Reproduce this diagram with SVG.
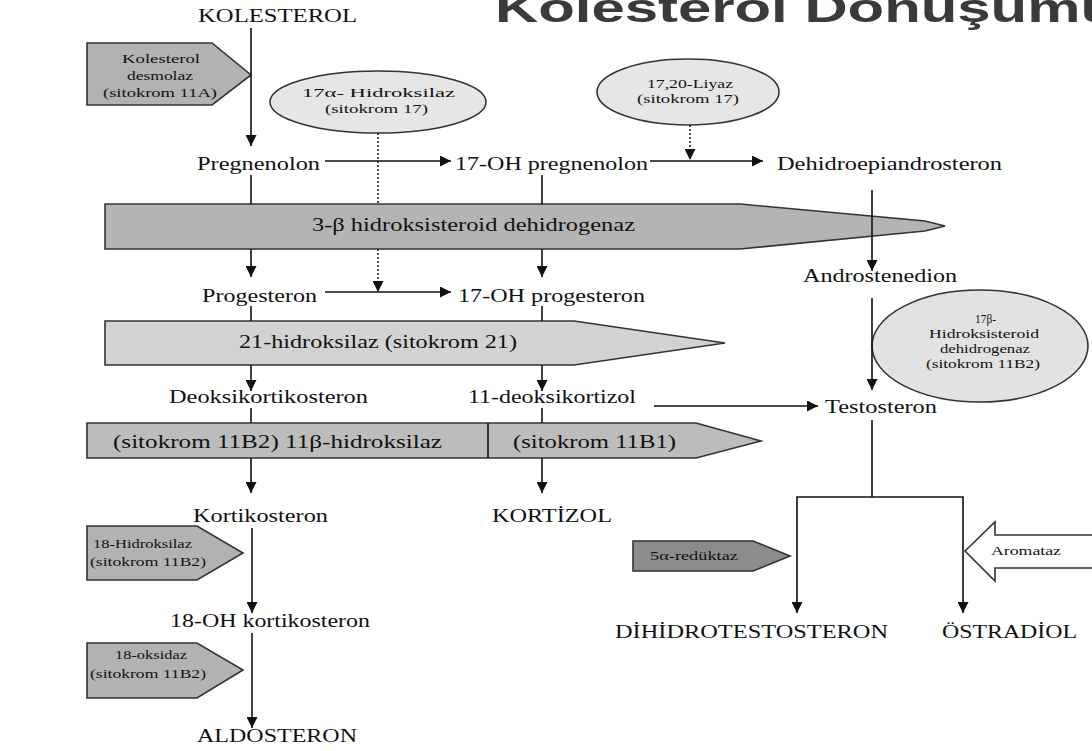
<svg xmlns="http://www.w3.org/2000/svg" width="1092" height="751" viewBox="0 0 1092 751">
<style>
.t{font-family:"Liberation Serif","Times New Roman",serif;font-size:19px;fill:#111}
.s{font-family:"Liberation Serif","Times New Roman",serif;font-size:11.5px;fill:#111}
.title{font-family:"Liberation Sans",Arial,sans-serif;font-weight:bold;font-size:40px;fill:#3a3a3a}
.ln{stroke:#111;stroke-width:1.6;fill:none}
.dot{stroke:#222;stroke-width:1.6;fill:none;stroke-dasharray:2,2}
.bar{stroke:#333;stroke-width:1.6}
</style>
<defs>
<marker id="ah" viewBox="0 0 10 10" refX="10" refY="5" markerWidth="11" markerHeight="11" markerUnits="userSpaceOnUse" orient="auto">
<path d="M0,0 L10,5 L0,10 z" fill="#111"/>
</marker>
</defs>
<rect width="1092" height="751" fill="#fff"/>
<text class="title" x="495" y="22" textLength="622" lengthAdjust="spacingAndGlyphs">Kolesterol Dönüşümü</text>

<g id="enzymes">
<g id="desmolaz">
<polygon points="87,43 212,43 251,75 212,105 87,105" fill="#b2b2b2" class="bar"/>
<text class="s" x="122" y="63" textLength="78" lengthAdjust="spacingAndGlyphs">Kolesterol</text>
<text class="s" x="127" y="80" textLength="66" lengthAdjust="spacingAndGlyphs">desmolaz</text>
<text class="s" x="103" y="97" textLength="114" lengthAdjust="spacingAndGlyphs">(sitokrom 11A)</text>
</g>
<g id="hidroksilaz17a">
<ellipse cx="378" cy="102" rx="108" ry="31" fill="#e6e6e6" stroke="#333" stroke-width="1.6"/>
<text class="s" x="302" y="97" textLength="153" lengthAdjust="spacingAndGlyphs">17α- Hidroksilaz</text>
<text class="s" x="325" y="113" textLength="103" lengthAdjust="spacingAndGlyphs">(sitokrom 17)</text>
</g>
<g id="liyaz">
<ellipse cx="688" cy="92" rx="91" ry="33" fill="#e6e6e6" stroke="#333" stroke-width="1.6"/>
<text class="s" x="647" y="88" textLength="86" lengthAdjust="spacingAndGlyphs">17,20-Liyaz</text>
<text class="s" x="637" y="103" textLength="102" lengthAdjust="spacingAndGlyphs">(sitokrom 17)</text>
</g>
<g id="hsd3b">
<polygon points="105,204 740,204 925,221 945,226 925,231 740,249 105,249" fill="#b4b4b4" class="bar"/>
<text class="t" x="312" y="231" textLength="323" lengthAdjust="spacingAndGlyphs">3-β hidroksisteroid dehidrogenaz</text>
</g>
<g id="hidroksilaz21">
<polygon points="105,321 574,321 725,343 574,365 105,365" fill="#d2d2d2" class="bar"/>
<text class="t" x="239" y="348" textLength="278" lengthAdjust="spacingAndGlyphs">21-hidroksilaz (sitokrom 21)</text>
</g>
<g id="hidroksilaz11b">
<polygon points="87,423 696,423 761,441 696,458 87,458" fill="#bcbcbc" class="bar"/>
<line x1="488" y1="423" x2="488" y2="458" class="ln"/>
<text class="t" x="113" y="448" textLength="329" lengthAdjust="spacingAndGlyphs">(sitokrom 11B2)  11β-hidroksilaz</text>
<text class="t" x="513" y="448" textLength="163" lengthAdjust="spacingAndGlyphs">(sitokrom 11B1)</text>
</g>
<g id="hsd17b">
<ellipse cx="980" cy="346" rx="108" ry="56" fill="#e2e2e2" stroke="#333" stroke-width="1.6"/>
<text class="s" x="975" y="323" textLength="21" lengthAdjust="spacingAndGlyphs">17β-</text>
<text class="s" x="929" y="338" textLength="110" lengthAdjust="spacingAndGlyphs">Hidroksisteroid</text>
<text class="s" x="940" y="353" textLength="90" lengthAdjust="spacingAndGlyphs">dehidrogenaz</text>
<text class="s" x="926" y="368" textLength="114" lengthAdjust="spacingAndGlyphs">(sitokrom 11B2)</text>
</g>
<g id="hidroksilaz18">
<polygon points="87,526 197,526 243,553 197,580 87,580" fill="#b2b2b2" class="bar"/>
<text class="s" x="93" y="548" textLength="99" lengthAdjust="spacingAndGlyphs">18-Hidroksilaz</text>
<text class="s" x="90" y="566" textLength="116" lengthAdjust="spacingAndGlyphs">(sitokrom 11B2)</text>
</g>
<g id="oksidaz18">
<polygon points="87,643 197,643 243,670 197,698 87,698" fill="#b2b2b2" class="bar"/>
<text class="s" x="115" y="659" textLength="72" lengthAdjust="spacingAndGlyphs">18-oksidaz</text>
<text class="s" x="90" y="678" textLength="116" lengthAdjust="spacingAndGlyphs">(sitokrom 11B2)</text>
</g>
<g id="reduktaz5a">
<polygon points="633,541 753,541 790,556 753,571 633,571" fill="#8c8c8c" class="bar"/>
<text class="s" x="650" y="560" textLength="88" lengthAdjust="spacingAndGlyphs">5α-redüktaz</text>
</g>
<g id="aromataz">
<polygon points="965,551 995,522 995,535 1094,535 1094,568 995,568 995,581" fill="#fff" class="bar"/>
<text class="s" x="991" y="555" textLength="70" lengthAdjust="spacingAndGlyphs">Aromataz</text>
</g>
</g>

<g id="connectors">
<line x1="251" y1="28" x2="251" y2="146" class="ln" marker-end="url(#ah)"/>
<line x1="325" y1="161" x2="451" y2="161" class="ln" marker-end="url(#ah)"/>
<line x1="650" y1="161" x2="763" y2="161" class="ln" marker-end="url(#ah)"/>
<line x1="378" y1="133" x2="378" y2="204" class="dot"/>
<line x1="378" y1="249" x2="378" y2="292" class="dot" marker-end="url(#ah)"/>
<line x1="690" y1="125" x2="690" y2="160" class="dot" marker-end="url(#ah)"/>
<line x1="251" y1="175" x2="251" y2="204" class="ln"/>
<line x1="251" y1="249" x2="251" y2="277" class="ln" marker-end="url(#ah)"/>
<line x1="542" y1="175" x2="542" y2="204" class="ln"/>
<line x1="542" y1="249" x2="542" y2="277" class="ln" marker-end="url(#ah)"/>
<line x1="872" y1="190" x2="872" y2="271" class="ln" marker-end="url(#ah)"/>
<line x1="325" y1="292" x2="451" y2="292" class="ln" marker-end="url(#ah)"/>
<line x1="251" y1="306" x2="251" y2="321" class="ln"/>
<line x1="251" y1="365" x2="251" y2="391" class="ln" marker-end="url(#ah)"/>
<line x1="542" y1="306" x2="542" y2="321" class="ln"/>
<line x1="542" y1="365" x2="542" y2="391" class="ln" marker-end="url(#ah)"/>
<line x1="872" y1="298" x2="872" y2="390" class="ln" marker-end="url(#ah)"/>
<line x1="654" y1="406" x2="818" y2="406" class="ln" marker-end="url(#ah)"/>
<line x1="251" y1="408" x2="251" y2="423" class="ln"/>
<line x1="251" y1="458" x2="251" y2="493" class="ln" marker-end="url(#ah)"/>
<line x1="542" y1="408" x2="542" y2="423" class="ln"/>
<line x1="542" y1="458" x2="542" y2="493" class="ln" marker-end="url(#ah)"/>
<line x1="252" y1="528" x2="252" y2="613" class="ln" marker-end="url(#ah)"/>
<line x1="252" y1="633" x2="252" y2="728" class="ln" marker-end="url(#ah)"/>
<polyline points="872,420 872,497" class="ln"/>
<polyline points="872,497 797,497 797,613" class="ln" marker-end="url(#ah)"/>
<polyline points="872,497 963,497 963,613" class="ln" marker-end="url(#ah)"/>
</g>

<g id="nodes">
<g id="kolesterol"><text class="t" x="198" y="22" textLength="159" lengthAdjust="spacingAndGlyphs">KOLESTEROL</text></g>
<g id="pregnenolon"><text class="t" x="197" y="170" textLength="123" lengthAdjust="spacingAndGlyphs">Pregnenolon</text></g>
<g id="oh17pregnenolon"><text class="t" x="455" y="170" textLength="193" lengthAdjust="spacingAndGlyphs">17-OH pregnenolon</text></g>
<g id="dhea"><text class="t" x="777" y="170" textLength="225" lengthAdjust="spacingAndGlyphs">Dehidroepiandrosteron</text></g>
<g id="progesteron"><text class="t" x="202" y="302" textLength="115" lengthAdjust="spacingAndGlyphs">Progesteron</text></g>
<g id="oh17progesteron"><text class="t" x="458" y="302" textLength="187" lengthAdjust="spacingAndGlyphs">17-OH progesteron</text></g>
<g id="androstenedion"><text class="t" x="803" y="282" textLength="154" lengthAdjust="spacingAndGlyphs">Androstenedion</text></g>
<g id="deoksikortikosteron"><text class="t" x="169" y="403" textLength="199" lengthAdjust="spacingAndGlyphs">Deoksikortikosteron</text></g>
<g id="deoksikortizol"><text class="t" x="468" y="403" textLength="168" lengthAdjust="spacingAndGlyphs">11-deoksikortizol</text></g>
<g id="testosteron"><text class="t" x="825" y="413" textLength="112" lengthAdjust="spacingAndGlyphs">Testosteron</text></g>
<g id="kortikosteron"><text class="t" x="193" y="522" textLength="135" lengthAdjust="spacingAndGlyphs">Kortikosteron</text></g>
<g id="kortizol"><text class="t" x="492" y="522" textLength="120" lengthAdjust="spacingAndGlyphs">KORTİZOL</text></g>
<g id="oh18kortikosteron"><text class="t" x="170" y="627" textLength="200" lengthAdjust="spacingAndGlyphs">18-OH kortikosteron</text></g>
<g id="aldosteron"><text class="t" x="197" y="742" textLength="160" lengthAdjust="spacingAndGlyphs">ALDOSTERON</text></g>
<g id="dht"><text class="t" x="615" y="638" textLength="273" lengthAdjust="spacingAndGlyphs">DİHİDROTESTOSTERON</text></g>
<g id="ostradiol"><text class="t" x="942" y="638" textLength="135" lengthAdjust="spacingAndGlyphs">ÖSTRADİOL</text></g>
</g>
</svg>
